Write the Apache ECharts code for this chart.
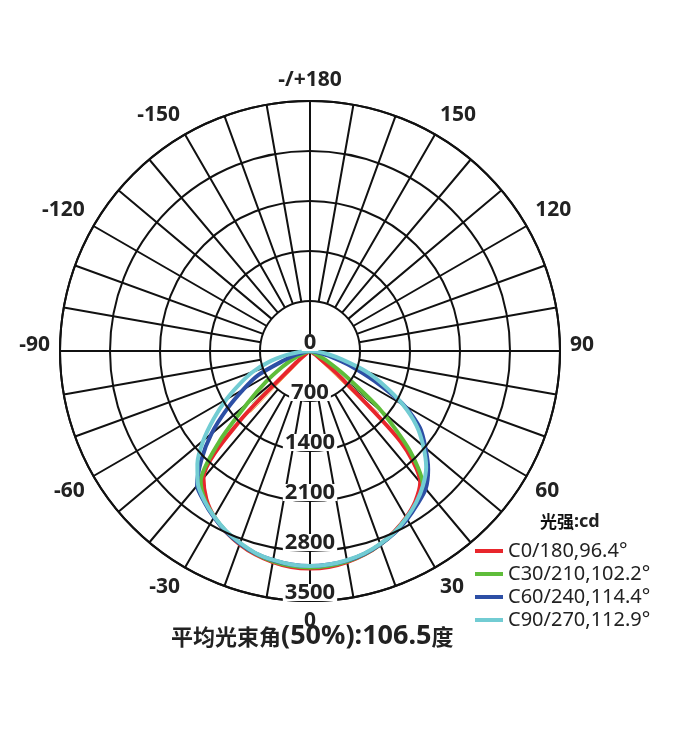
<!DOCTYPE html>
<html><head><meta charset="utf-8">
<script src="https://cdn.jsdelivr.net/npm/echarts@6/dist/echarts.min.js"></script>
<style>html,body{margin:0;padding:0;background:#fff}#c{width:678px;height:750px}</style>
</head><body><div id="c"></div>
<script>
// gamma angles (deg), 0 = straight down, positive to the right
const angles = [-90,-85,-80,-75,-70,-65,-60,-55,-50,-45,-40,-35,-30,-25,-20,-15,-10,-5,0,5,10,15,20,25,30,35,40,45,50,55,60,65,70,75,80,85,90];
// luminous intensity (cd)
const c0  = [0,0,0,0,0,0,20,60,250, 1420,2320,2530,2680,2790,2880,2950,3000,3035, 3045, 3035,3000,2950,2880,2790,2690,2570,2400,1800, 500,100,20,0,0,0,0,0,0];
const c30 = [0,0,0,20,100,250,450,750,1150, 1800,2380,2560,2680,2785,2870,2940,2990,3020, 3030, 3020,2990,2945,2880,2800,2700,2600,2460,1980, 1300,600,250,80,20,0,0,0,0];
const c60 = [0,20,80,200,400,800,1080,1420,1800, 2150,2460,2580,2690,2790,2870,2935,2975,3000, 3010, 3000,2980,2940,2880,2810,2720,2620,2520,2340, 2110,1880,1520,1000,600,300,120,30,0];
const c90 = [0,150,340,600,850,1080,1350,1640,1950, 2230,2440,2570,2680,2780,2860,2930,2970,3000, 3010, 3000,2975,2935,2875,2800,2700,2590,2460,2300, 2070,1820,1500,1150,830,470,260,100,0];
const seriesNames = ['C0/180,96.4°','C30/210,102.2°','C60/240,114.4°','C90/270,112.9°'];
const seriesData = [c0, c30, c60, c90];
const seriesColors = ['#e8262c','#5fbd3a','#2d4fa5','#72ccd3'];
// thin beam-edge lines: [left angle, right angle], reach (cd)
const thinAngles = [[-46,48],[-44,46],[-48,50]];
const thinReach = [1300,1200,1100];
const thinColors = ['#f39a9a','#f1b55c','#9bd67c'];
// axes
const radiusMax = 3500, radiusStep = 700;
const angleStep = 10, angleLabelStep = 30;
const title = '平均光束角';
const titleNum = '(50%):106.5';
const titleUnit = '度';
const unitHead = '光强', unitTail = ':cd';

const toAxisAngle = a => (a < 0 ? a + 360 : a);
const grid = { color: '#111', width: 2 };

const series = [];
thinAngles.forEach((p, i) => {
  series.push({
    type: 'line', coordinateSystem: 'polar', polarIndex: 1, symbol: 'none', silent: true,
    data: [[thinReach[i], toAxisAngle(p[0])], [0, 0], [thinReach[i], toAxisAngle(p[1])]],
    lineStyle: { color: thinColors[i], width: 1 }, z: 2
  });
});
seriesData.forEach((vals, i) => {
  series.push({
    name: seriesNames[i], type: 'line', coordinateSystem: 'polar', polarIndex: 1,
    symbol: 'none', smooth: 0.25, color: seriesColors[i],
    data: angles.map((a, k) => [vals[k], toAxisAngle(a)]),
    lineStyle: { color: seriesColors[i], width: 4 }, z: 3 + i
  });
});

const labelFont = { fontSize: 21, fontWeight: 'bold', color: '#222', fontFamily: 'Noto Sans' };

const chart = echarts.init(document.getElementById('c'), null, { renderer: 'canvas' });
chart.setOption({
  backgroundColor: '#fff',
  animation: false,
  title: [
    { text: '{a|' + title + '}{b|' + titleNum + '}{a|' + titleUnit + '}', left: 166, top: 618,
      textStyle: { rich: {
        a: { fontSize: 22, fontWeight: 'bold', color: '#222', fontFamily: 'Noto Sans CJK SC' },
        b: { fontSize: 27, fontWeight: 'bold', color: '#222', fontFamily: 'Noto Sans' } } } },
    { text: '{a|' + unitHead + '}{b|' + unitTail + '}', left: 535, top: 508,
      textStyle: { rich: {
        a: { fontSize: 17, fontWeight: 'bold', color: '#111', fontFamily: 'Noto Sans CJK SC' },
        b: { fontSize: 18, color: '#222', fontFamily: 'Noto Sans' } } } }
  ],
  legend: {
    data: seriesNames, orient: 'vertical', left: 470, top: 536,
    icon: 'rect', itemWidth: 28, itemHeight: 4, itemGap: 3,
    textStyle: { fontSize: 20, lineHeight: 20, color: '#222', fontFamily: 'Noto Sans' }
  },
  polar: [
    { center: [310, 351], radius: [50, 250] },
    { center: [310, 351], radius: [0, 250] }
  ],
  angleAxis: [
    { polarIndex: 0, type: 'value', min: 0, max: 360, interval: angleStep, startAngle: 270, clockwise: false,
      axisLine: { show: false }, axisTick: { show: false },
      splitLine: { show: true, lineStyle: grid },
      axisLabel: Object.assign({ show: true, margin: 10,
        rich: { s: Object.assign({ padding: [0, 0, 12, 0] }, labelFont) },
        formatter: v => {
          if (v % angleLabelStep !== 0) return '';
          if (v === 180) return '-/+180';
          if (v === 360) return '';
          const t = String(v > 180 ? v - 360 : v);
          return (v === 90 || v === 270) ? '{s|' + t + '}' : t;
        } }, labelFont) },
    { polarIndex: 1, type: 'value', min: 0, max: 360, interval: 90, startAngle: 270, clockwise: false,
      axisLine: { show: true, lineStyle: grid }, axisTick: { show: false }, axisLabel: { show: false },
      splitLine: { show: true, lineStyle: grid } }
  ],
  radiusAxis: [
    { polarIndex: 0, type: 'value', min: 0, max: 1, show: false },
    { polarIndex: 1, type: 'value', min: 0, max: radiusMax, interval: radiusStep, z: 10,
      axisLine: { show: false }, axisTick: { show: false },
      splitLine: { show: true, lineStyle: grid },
      axisLabel: { show: true, margin: 0, align: 'center', verticalAlign: 'bottom',
        backgroundColor: '#fff', padding: [0, 2, 0, 2], lineHeight: 17,
        formatter: v => String(v),
        fontSize: 22, fontWeight: 'bold', color: '#222', fontFamily: 'Noto Sans' } }
  ],
  series: series
});
</script></body></html>
